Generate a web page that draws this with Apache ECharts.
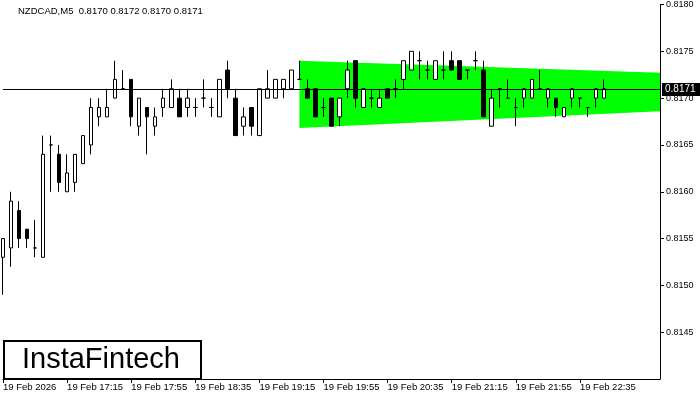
<!DOCTYPE html>
<html>
<head>
<meta charset="utf-8">
<script src="https://cdn.jsdelivr.net/npm/echarts@6/dist/echarts.min.js"></script>
<style>html,body{margin:0;padding:0;background:#fff}#c{width:700px;height:400px}</style>
</head>
<body>
<div id="c"></div>
<script>
// ---- data ----
var opens  = [.8153,.8154,.8158,.8156,.8154,.8153,.8165,.8164,.8160,.8161,.8163,.8165,.8168,.8168,.8170,.8171,.8172,.8167,.8169,.8167,
              .8169,.8169,.8170,.8169,.8169,.8170,.8169,.8168,.8173,.8170,.8167,.8169,.8166,.8170,.8170,.8171,.8171,.8172,.8171,.8171,
              .8169,.8170,.8168,.8171,.8174,.8169,.8170,.8169,.8171,.8171,.8172,.8173,.8174,.8173,.8172,.8173,.8174,.8174,.8173,.8174,
              .8173,.8167,.8171,.8170,.8169,.8170,.8170,.8171,.8170,.8170,.8168,.8170,.8170,.8169,.8170,.8170];
var closes = [.8155,.8159,.8155,.8155,.8154,.8164,.8165,.8161,.8162,.8164,.8166,.8169,.8169,.8169,.8172,.8171,.8168,.8170,.8168,.8168,
              .8170,.8171,.8168,.8170,.8169,.8170,.8169,.8172,.8171,.8166,.8168,.8167,.8171,.8171,.8172,.8172,.8173,.8172,.8170,.8168,
              .8169,.8167,.8170,.8173,.8170,.8171,.8170,.8170,.8170,.8171,.8174,.8175,.8174,.8173,.8174,.8173,.8173,.8172,.8173,.8174,
              .8168,.8170,.8171,.8170,.8169,.8171,.8172,.8171,.8171,.8169,.8169,.8171,.8170,.8169,.8171,.8171];
var lows   = [.8149,.8152,.8154,.8154,.8153,.8153,.8160,.8160,.8160,.8160,.8163,.8164,.8167,.8168,.8170,.8171,.8167,.8166,.8164,.8166,
              .8168,.8169,.8168,.8168,.8168,.8169,.8168,.8168,.8170,.8166,.8166,.8166,.8166,.8170,.8170,.8170,.8171,.8172,.8170,.8168,
              .8168,.8167,.8167,.8170,.8169,.8169,.8169,.8169,.8170,.8170,.8171,.8173,.8172,.8172,.8172,.8172,.8173,.8172,.8172,.8173,
              .8168,.8167,.8169,.8170,.8167,.8169,.8170,.8171,.8169,.8168,.8168,.8169,.8169,.8168,.8169,.8170];
var highs  = [.8155,.8160,.8159,.8156,.8157,.8166,.8166,.8165,.8164,.8164,.8166,.8170,.8170,.8171,.8174,.8173,.8172,.8170,.8169,.8169,
              .8171,.8172,.8171,.8171,.8170,.8172,.8170,.8172,.8174,.8171,.8169,.8169,.8171,.8173,.8172,.8172,.8173,.8174,.8172,.8171,
              .8170,.8170,.8170,.8174,.8174,.8171,.8171,.8171,.8171,.8172,.8174,.8175,.8175,.8174,.8174,.8175,.8175,.8174,.8173,.8175,
              .8174,.8171,.8171,.8172,.8170,.8171,.8172,.8173,.8171,.8170,.8169,.8171,.8170,.8169,.8171,.8172];
var tickLabels = ['19 Feb 2026','19 Feb 17:15','19 Feb 17:55','19 Feb 18:35','19 Feb 19:15',
                  '19 Feb 19:55','19 Feb 20:35','19 Feb 21:15','19 Feb 21:55','19 Feb 22:35'];
var bandX     = [37, 82];
var bandUpper = [0.81740, 0.81727];
var bandLower = [0.81668, 0.81686];
var lastPrice = 0.8171;
var headerText = 'NZDCAD,M5  0.8170 0.8172 0.8170 0.8171';

// categories: 5-minute bars starting 16:35 (83 slots incl. empty future)
var categories = [];
for (var i = 0; i < 83; i++) {
  var m = 16 * 60 + 35 + i * 5;
  var hh = Math.floor(m / 60) % 24, mm = m % 60;
  categories.push((hh < 10 ? '0' : '') + hh + ':' + (mm < 10 ? '0' : '') + mm);
}
var candleData = opens.map(function (o, k) { return [o, closes[k], lows[k], highs[k]]; });
var lastIdx = categories.length - 1;

function showTick(idx) { return idx % 8 === 0 && idx / 8 < tickLabels.length; }

var chart = echarts.init(document.getElementById('c'), null, {renderer: 'canvas'});
chart.setOption({
  animation: false,
  backgroundColor: '#fff',
  grid: {left: 3, right: 40, top: 4, bottom: 21},
  xAxis: {
    type: 'category', data: categories, boundaryGap: false,
    axisLine: {show: true, lineStyle: {color: '#000', width: 1}},
    axisTick: {show: true, interval: function (i) { return showTick(i); }, length: 4, lineStyle: {color: '#000'}},
    axisLabel: {
      interval: function (i) { return showTick(i); },
      formatter: function (v, i) { return tickLabels[i / 8] || ''; },
      align: 'left', color: '#000', fontSize: 9.5, fontFamily: 'Liberation Sans', margin: 3
    },
    splitLine: {show: false}
  },
  yAxis: {
    type: 'value', position: 'right', min: 0.8140, max: 0.8180, interval: 0.0005, scale: true,
    axisLine: {show: true, lineStyle: {color: '#000', width: 1}},
    axisTick: {show: true, length: 4, lineStyle: {color: '#000'}},
    axisLabel: {
      formatter: function (v) { return v.toFixed(4); },
      showMinLabel: false, color: '#000', fontSize: 9, fontFamily: 'Liberation Sans', margin: 6
    },
    splitLine: {show: false}
  },
  series: [
    {
      type: 'custom', z: 1, silent: true,
      data: [0],
      renderItem: function (params, api) {
        var pts = [];
        for (var k = 0; k < bandX.length; k++) pts.push(api.coord([bandX[k], bandUpper[k]]));
        for (var k2 = bandX.length - 1; k2 >= 0; k2--) pts.push(api.coord([bandX[k2], bandLower[k2]]));
        return {type: 'polygon', shape: {points: pts}, style: {fill: '#00ff00', stroke: null}};
      }
    },
    {
      type: 'candlestick', z: 3, data: candleData, barWidth: 4, clip: true,
      itemStyle: {color: '#fff', color0: '#000', borderColor: '#000', borderColor0: '#000', borderColorDoji: '#000', borderWidth: 1}
    },
    {
      type: 'custom', z: 5, silent: true, clip: false,
      data: [0],
      renderItem: function (params, api) {
        var a = api.coord([0, lastPrice]);
        var b = api.coord([lastIdx, lastPrice]);
        var y = Math.round(a[1]) + 0.5;
        return {
          type: 'group',
          children: [
            {type: 'line', shape: {x1: a[0], y1: y, x2: b[0], y2: y}, style: {stroke: '#000', lineWidth: 1}},
            {type: 'rect', shape: {x: b[0] + 2, y: y - 6.5, width: 38, height: 13}, style: {fill: '#000'}},
            {type: 'text', x: b[0] + 5, y: y, style: {text: lastPrice.toFixed(4), fill: '#fff',
              font: '10px "Liberation Sans"', verticalAlign: 'middle', align: 'left'}}
          ]
        };
      }
    }
  ],
  graphic: [
    {type: 'text', left: 18, top: 6, silent: true,
     style: {text: headerText, font: '9.5px "Liberation Sans"', fill: '#000'}},
    {type: 'rect', silent: true, z: 10,
     shape: {x: 4, y: 341, width: 197, height: 38},
     style: {fill: '#fff', stroke: '#000', lineWidth: 2}},
    {type: 'text', silent: true, z: 11, x: 22, y: 360,
     style: {text: 'InstaFintech', font: '500 29px "Liberation Sans"', fill: '#000', verticalAlign: 'middle', align: 'left'}}
  ]
});
</script>
</body>
</html>
